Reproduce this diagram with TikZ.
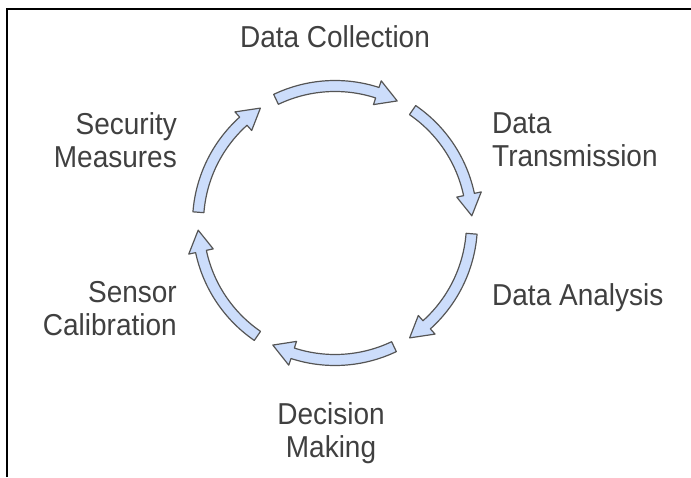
\documentclass[tikz,border=0pt]{standalone}
\usepackage{fontspec}
\setmainfont{Liberation Sans}
\definecolor{arrowfill}{HTML}{CCDDFB}
\definecolor{arrowline}{HTML}{555555}
\definecolor{labeltext}{HTML}{404040}

% One curved block arrow of the cycle, running clockwise.
% #1 = tail angle, #2 = neck angle (where the head starts), #3 = tip angle
\newcommand{\cyclearrow}[3]{%
  \draw[cyclearrowstyle]
    (#1:\rOut) arc[start angle=#1, end angle=#2, radius=\rOut]
    -- (#2:\rBarbOut) -- (#3:\rMid) -- (#2:\rBarbIn) -- (#2:\rIn)
    arc[start angle=#2, end angle=#1, radius=\rIn] -- cycle;%
}

\begin{document}
\begin{tikzpicture}[x=1pt, y=1pt,
  cyclearrowstyle/.style={fill=arrowfill, draw=arrowline, line width=1.2pt, line join=round},
  label/.style={inner sep=0pt, text=labeltext, yscale=1.08, transform shape,
    font=\fontsize{28}{31}\selectfont},
  frameline/.style={draw=black, line width=2pt}]
  \useasboundingbox (0,0) rectangle (691,477);

  % frame (only its top and left edges fall inside the picture)
  \draw[frameline] (7,0) -- (7,467.5) -- (691,467.5);

  % ring of six arrows
  \def\rMid{137}
  \def\rOut{142.5}
  \def\rIn{131.5}
  \def\rBarbOut{149.5}
  \def\rBarbIn{124.5}
  \begin{scope}[shift={(335,254)}]
    \foreach \c in {90,30,-30,-90,-150,150} {
      \pgfmathsetmacro{\ta}{\c+25.5}
      \pgfmathsetmacro{\na}{\c-18}
      \pgfmathsetmacro{\pa}{\c-27}
      \cyclearrow{\ta}{\na}{\pa}
    }
  \end{scope}

  % stage labels
  \node[label, anchor=north] (collect) at (335,452) {Data Collection};
  \node[label, anchor=north west, align=left] (transmit) at (492,365) {Data\\Transmission};
  \node[label, anchor=north west, align=left] (analyse) at (492,194) {Data Analysis};
  \node[label, anchor=north, align=center] (decide) at (331,75) {Decision\\Making};
  \node[label, anchor=north east, align=right] (calibrate) at (177,196) {Sensor\\Calibration};
  \node[label, anchor=north east, align=right] (secure) at (177,365) {Security\\Measures};
\end{tikzpicture}
\end{document}
